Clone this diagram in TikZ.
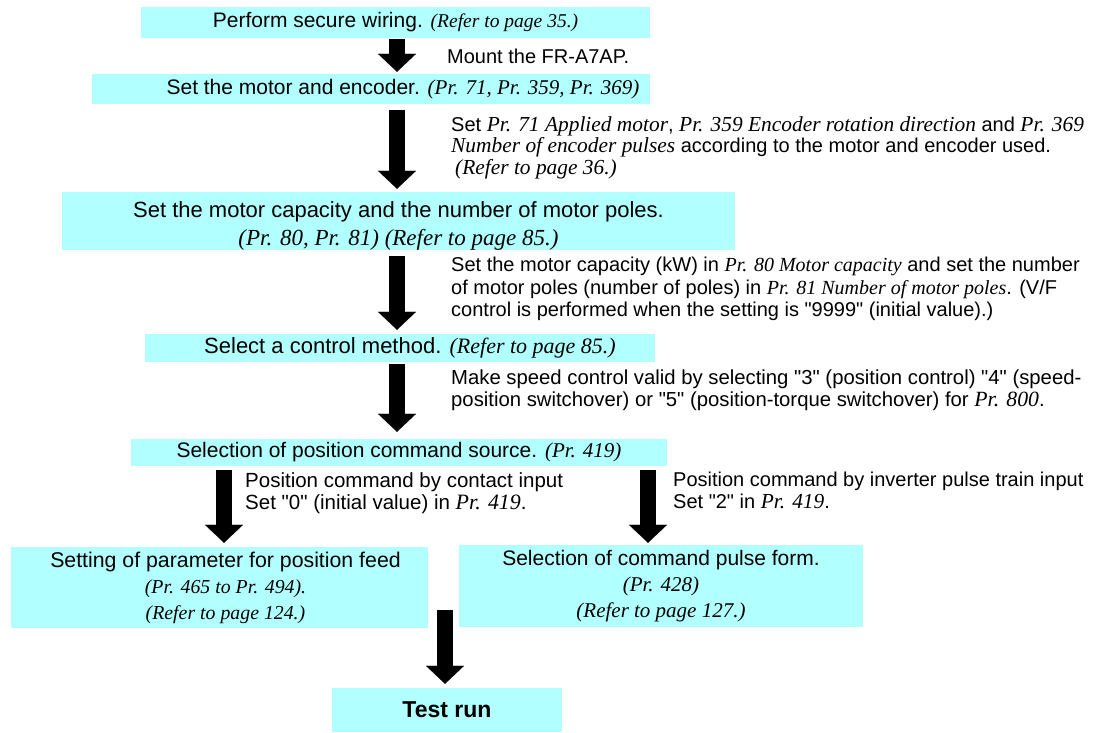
\documentclass[tikz,border=0pt]{standalone}
\usepackage{fontspec}
\setmainfont{Liberation Sans}[Ligatures=TeXOff]
\newfontfamily\tmsfont{Liberation Serif}
\newfontfamily\tmsA{Liberation Serif}[Scale=0.93]
\newfontfamily\tmsB{Liberation Serif}[Scale=1.07]
\newcommand\ti[1]{{\tmsfont\itshape #1}}
\newcommand\tia[1]{{\tmsA\itshape #1}}
\newcommand\tib[1]{{\tmsB\itshape #1}}
\newcommand\fsz[2]{\fontsize{#1}{#2}\selectfont}
\usetikzlibrary{arrows.meta}
\definecolor{cyanbg}{RGB}{178,255,255}
\tikzset{
  box/.style={fill=cyanbg, inner sep=0pt, align=center, font=\fsz{21}{22.5}},
  note/.style={inner sep=0pt, anchor=north west, align=left, font=\fsz{20}{21.5}},
  bigarrow/.style={line width=16pt, -{Triangle[width=38pt,length=18pt,line width=0.01pt]}}
}
\begin{document}
\begin{tikzpicture}[x=1pt,y=-1pt]
\useasboundingbox (0,0) rectangle (1093,732);
% boxes
\node[box, minimum width=509pt, minimum height=31pt] (b1) at (395.5,22.5)
  {Perform secure wiring. \tia{(Refer to page 35.)}};
\node[box, minimum width=558pt, minimum height=30pt] (b2) at (371,89)
  {\hspace*{64pt}Set the motor and encoder. \ti{(Pr. 71, Pr. 359, Pr. 369)}};
\node[box, minimum width=673pt, minimum height=58pt, font=\fsz{22}{24}] (b3) at (398.5,221)
  {\rule{0pt}{25pt}Set the motor capacity and the number of motor poles.\\[4pt]{\fsz{23}{24}\ti{(Pr. 80, Pr. 81) (Refer to page 85.)}}};
\node[box, minimum width=510pt, minimum height=28pt, font=\fsz{22}{24}] (b4) at (400,348)
  {\hspace*{20pt}Select a control method. \ti{(Refer to page 85.)}};
\node[box, minimum width=536pt, minimum height=27pt] (b5) at (399,452.5)
  {Selection of position command source. \ti{(Pr. 419)}};
\node[box, minimum width=417pt, minimum height=81pt, font=\fsz{21.3}{22.5}] (b6l) at (219.5,587.5)
  {\hspace*{12pt}Setting of parameter for position feed\\[3.5pt]\hspace*{12pt}\tia{(Pr. 465 to Pr. 494).}\\[3.5pt]\hspace*{12pt}\tia{(Refer to page 124.)}};
\node[box, minimum width=404pt, minimum height=82pt] (b6r) at (661,586)
  {Selection of command pulse form.\\[3.5pt]\ti{(Pr. 428)}\\[3.5pt]\ti{(Refer to page 127.)}};
\node[box, minimum width=230pt, minimum height=44pt, font=\fsz{23}{25}\bfseries] (b7) at (447,710)
  {Test run};
% notes
\node[note, anchor=west] (n1) at (447,56) {Mount the FR-A7AP.};
\node[note] (n2) at (451,116)
  {Set \tib{Pr. 71 Applied motor}, \tib{Pr. 359 Encoder rotation direction} and \tib{Pr. 369}\\
   \tib{Number of encoder pulses} according to the motor and encoder used.\\
   \hspace*{4pt}\tib{(Refer to page 36.)}};
\node[note, font=\fsz{20}{22.5}] (n3) at (451,257)
  {Set the motor capacity (kW) in \ti{Pr. 80 Motor capacity} and set the number\\
   of motor poles (number of poles) in \ti{Pr. 81 Number of motor poles}. (V/F\\
   control is performed when the setting is "9999" (initial value).)};
\node[note, font=\fsz{20.3}{21.8}] (n4) at (451,370)
  {Make speed control valid by selecting "3" (position control) "4" (speed-\\
   position switchover) or "5" (position-torque switchover) for \tib{Pr. 800}.};
\node[note, font=\fsz{20.5}{22}] (n5) at (245,472)
  {Position command by contact input\\
   Set "0" (initial value) in \tib{Pr. 419}.};
\node[note] (n6) at (673,472)
  {Position command by inverter pulse train input\\
   Set "2" in \tib{Pr. 419}.};
% arrows
\coordinate (ax) at (397,0);
\coordinate (axl) at (224,0);
\coordinate (axr) at (648,0);
\coordinate (mid) at (445,610);
\draw[bigarrow, shorten <=1pt, shorten >=2pt] (b1.south -| ax) -- (b2.north -| ax);
\draw[bigarrow, shorten <=6pt, shorten >=3pt] (b2.south -| ax) -- (b3.north -| ax);
\draw[bigarrow, shorten <=6pt, shorten >=4pt] (b3.south -| ax) -- (b4.north -| ax);
\draw[bigarrow, shorten <=2pt, shorten >=7pt] (b4.south -| ax) -- (b5.north -| ax);
\draw[bigarrow, shorten <=4pt, shorten >=4pt] (b5.south -| axl) -- (b6l.north -| axl);
\draw[bigarrow, shorten <=4pt, shorten >=2pt] (b5.south -| axr) -- (b6r.north -| axr);
\draw[bigarrow, shorten >=4pt] (mid) -- (b7.north -| mid);
\end{tikzpicture}
\end{document}
